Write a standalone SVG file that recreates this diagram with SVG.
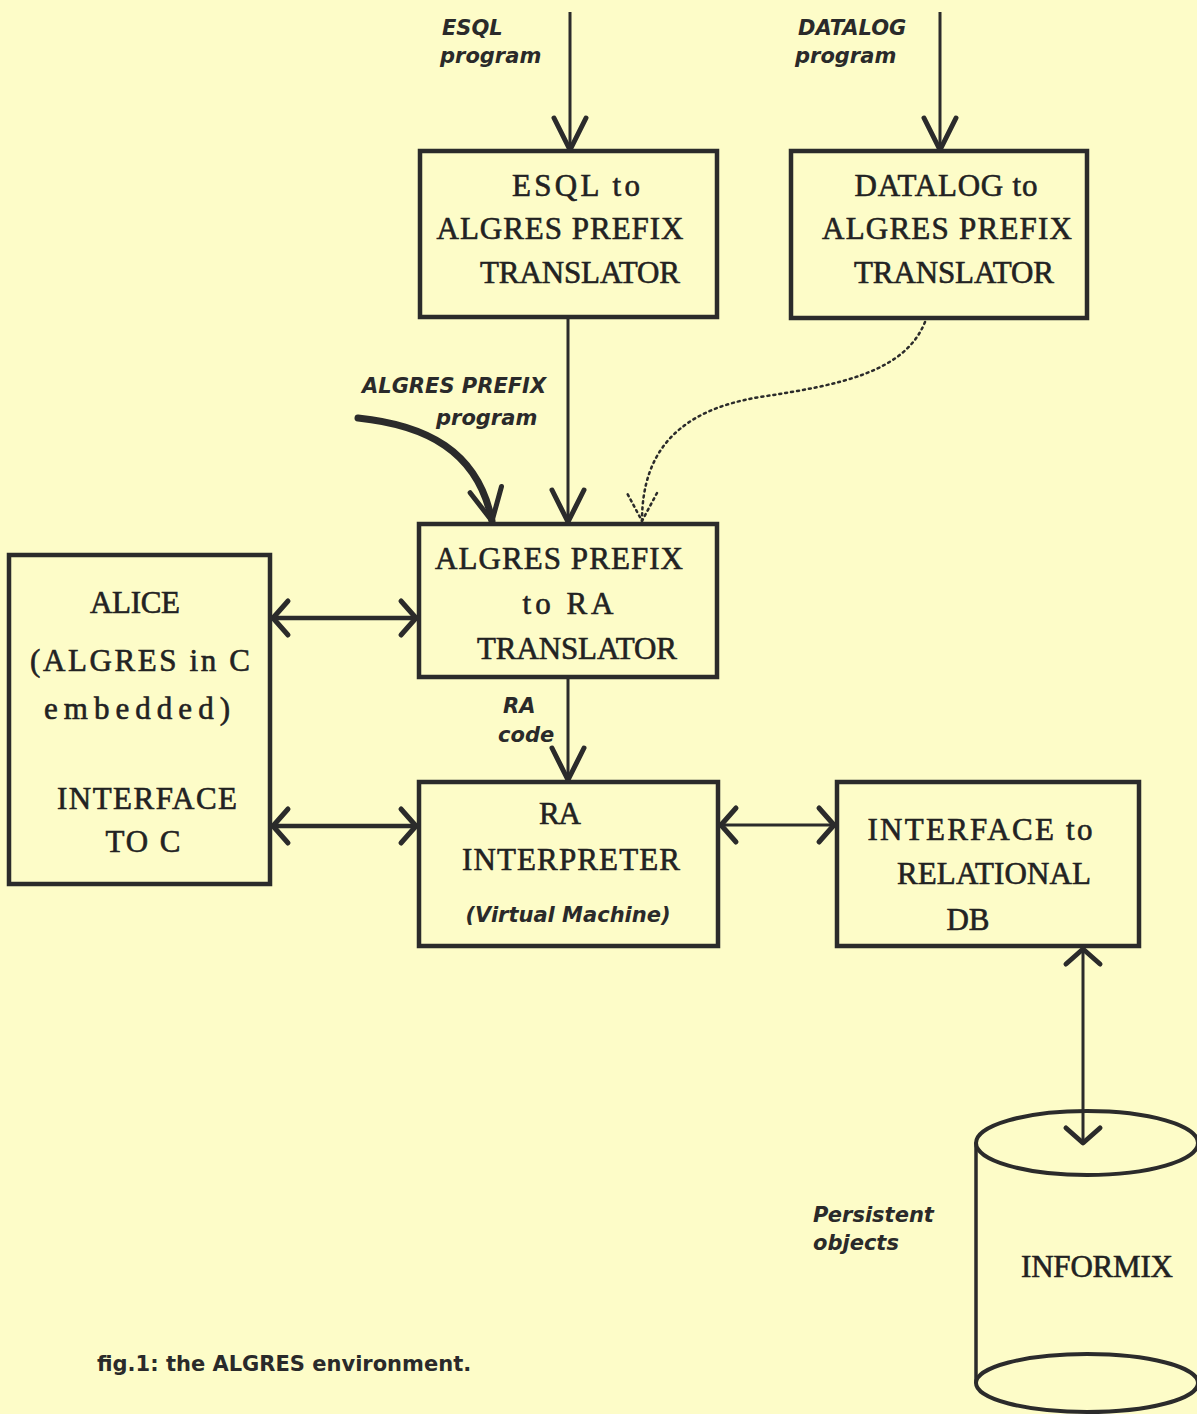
<svg xmlns="http://www.w3.org/2000/svg" width="1197" height="1414" viewBox="0 0 1197 1414">
<defs>
<style>
.box{fill:none;stroke:#2b2b2b;stroke-width:4.5}
.t{font-family:"Liberation Serif",serif;font-size:31px;fill:#222;stroke:#222;stroke-width:0.6;text-anchor:middle}
.l{font-family:"DejaVu Sans",sans-serif;font-style:italic;font-weight:bold;font-size:21px;fill:#2a2a2a}
.ln{fill:none;stroke:#2b2b2b;stroke-width:3}
.lnh{fill:none;stroke:#2b2b2b;stroke-width:4.5}
</style>
<marker id="mv" viewBox="-36 -20 40 40" refX="0" refY="0" markerWidth="40" markerHeight="40" markerUnits="userSpaceOnUse" orient="auto">
<path d="M-32,-16 L0,0 L-32,16" fill="none" stroke="#2b2b2b" stroke-width="5" stroke-linejoin="round" stroke-linecap="round"/>
</marker>
<marker id="ms" viewBox="-20 -22 24 44" refX="0" refY="0" markerWidth="24" markerHeight="44" markerUnits="userSpaceOnUse" orient="auto-start-reverse">
<path d="M-15,-17 L0,0 L-15,17" fill="none" stroke="#2b2b2b" stroke-width="5" stroke-linejoin="round" stroke-linecap="round"/>
</marker>
<marker id="md" viewBox="-36 -20 40 40" refX="0" refY="0" markerWidth="40" markerHeight="40" markerUnits="userSpaceOnUse" orient="auto">
<path d="M-28,-15 L0,0 L-28,15" fill="none" stroke="#2b2b2b" stroke-width="2.5" stroke-dasharray="2 4" stroke-linecap="round"/>
</marker>
</defs>
<rect x="0" y="0" width="1197" height="1414" fill="#fdfcc8"/>

<g id="connectors">
<line class="ln" x1="570" y1="12" x2="570" y2="150" marker-end="url(#mv)"/>
<line class="ln" x1="940" y1="12" x2="940" y2="150" marker-end="url(#mv)"/>
<line class="ln" x1="568" y1="317" x2="568" y2="522" marker-end="url(#mv)"/>
<path d="M358,418 C425,425 478,450 492,521" fill="none" stroke="#2b2b2b" stroke-width="7" stroke-linecap="round" marker-end="url(#mv)"/>
<path d="M925,322 C905,372 840,385 760,397 C680,410 642,450 642,521" fill="none" stroke="#2b2b2b" stroke-width="2.5" stroke-dasharray="2 4" stroke-linecap="round" marker-end="url(#md)"/>
<line class="lnh" x1="273" y1="618" x2="416" y2="618" marker-start="url(#ms)" marker-end="url(#ms)"/>
<line class="lnh" x1="273" y1="826" x2="416" y2="826" marker-start="url(#ms)" marker-end="url(#ms)"/>
<line class="ln" x1="568" y1="677" x2="568" y2="780" marker-end="url(#mv)"/>
<line class="ln" x1="721" y1="825" x2="834" y2="825" marker-start="url(#ms)" marker-end="url(#ms)"/>
<line class="ln" x1="1083" y1="949" x2="1083" y2="1143" marker-start="url(#ms)" marker-end="url(#ms)"/>
</g>

<g id="label-esql">
<text class="l" x="442" y="35" font-size="20">ESQL</text>
<text class="l" x="440" y="63">program</text>
</g>
<g id="label-datalog">
<text class="l" x="798" y="35" font-size="20">DATALOG</text>
<text class="l" x="795" y="63">program</text>
</g>
<g id="label-algres-prefix">
<text class="l" x="362" y="393">ALGRES PREFIX</text>
<text class="l" x="436" y="425">program</text>
</g>
<g id="label-ra-code">
<text class="l" x="503" y="713" font-size="18">RA</text>
<text class="l" x="498" y="742" font-size="18">code</text>
</g>

<g id="esql-translator">
<rect class="box" x="420" y="151" width="297" height="166"/>
<text class="t" x="576" y="196" textLength="128">ESQL to</text>
<text class="t" x="560" y="239" textLength="247">ALGRES PREFIX</text>
<text class="t" x="580" y="283" textLength="200">TRANSLATOR</text>
</g>
<g id="datalog-translator">
<rect class="box" x="791" y="151" width="296" height="167"/>
<text class="t" x="946" y="196" textLength="183">DATALOG to</text>
<text class="t" x="947" y="239" textLength="250">ALGRES PREFIX</text>
<text class="t" x="954" y="283" textLength="200">TRANSLATOR</text>
</g>
<g id="prefix-to-ra">
<rect class="box" x="419" y="524" width="298" height="153"/>
<text class="t" x="559" y="569" textLength="248">ALGRES PREFIX</text>
<text class="t" x="568" y="614" textLength="91">to RA</text>
<text class="t" x="577" y="659" textLength="200">TRANSLATOR</text>
</g>
<g id="alice">
<rect class="box" x="9" y="555" width="261" height="329"/>
<text class="t" x="135" y="613" textLength="90">ALICE</text>
<text class="t" x="140" y="671" textLength="220">(ALGRES in C</text>
<text class="t" x="137" y="719" textLength="186">embedded)</text>
<text class="t" x="147" y="809" textLength="180">INTERFACE</text>
<text class="t" x="143" y="852" textLength="75">TO C</text>
</g>
<g id="ra-interpreter">
<rect class="box" x="419" y="782" width="299" height="164"/>
<text class="t" x="560" y="824" textLength="42">RA</text>
<text class="t" x="571" y="870" textLength="218">INTERPRETER</text>
<text class="l" x="568" y="922" font-size="20" text-anchor="middle">(Virtual Machine)</text>
</g>
<g id="interface-db">
<rect class="box" x="837" y="782" width="302" height="164"/>
<text class="t" x="980" y="840" textLength="225">INTERFACE to</text>
<text class="t" x="994" y="884" textLength="194">RELATIONAL</text>
<text class="t" x="968" y="930" textLength="43">DB</text>
</g>
<g id="informix">
<path d="M976,1143 L976,1383" fill="none" stroke="#2b2b2b" stroke-width="3.5"/>
<ellipse cx="1087" cy="1143" rx="111" ry="32" fill="none" stroke="#2b2b2b" stroke-width="4"/>
<ellipse cx="1087" cy="1383" rx="111" ry="29" fill="none" stroke="#2b2b2b" stroke-width="4"/>
<text class="t" x="1097" y="1277" textLength="152">INFORMIX</text>
</g>
<g id="label-persistent">
<text class="l" x="813" y="1222">Persistent</text>
<text class="l" x="813" y="1250">objects</text>
</g>
<g id="caption">
<text x="97" y="1371" font-family="DejaVu Sans, sans-serif" font-weight="bold" font-size="21" fill="#2a2a2a">fig.1: the ALGRES environment.</text>
</g>
</svg>
